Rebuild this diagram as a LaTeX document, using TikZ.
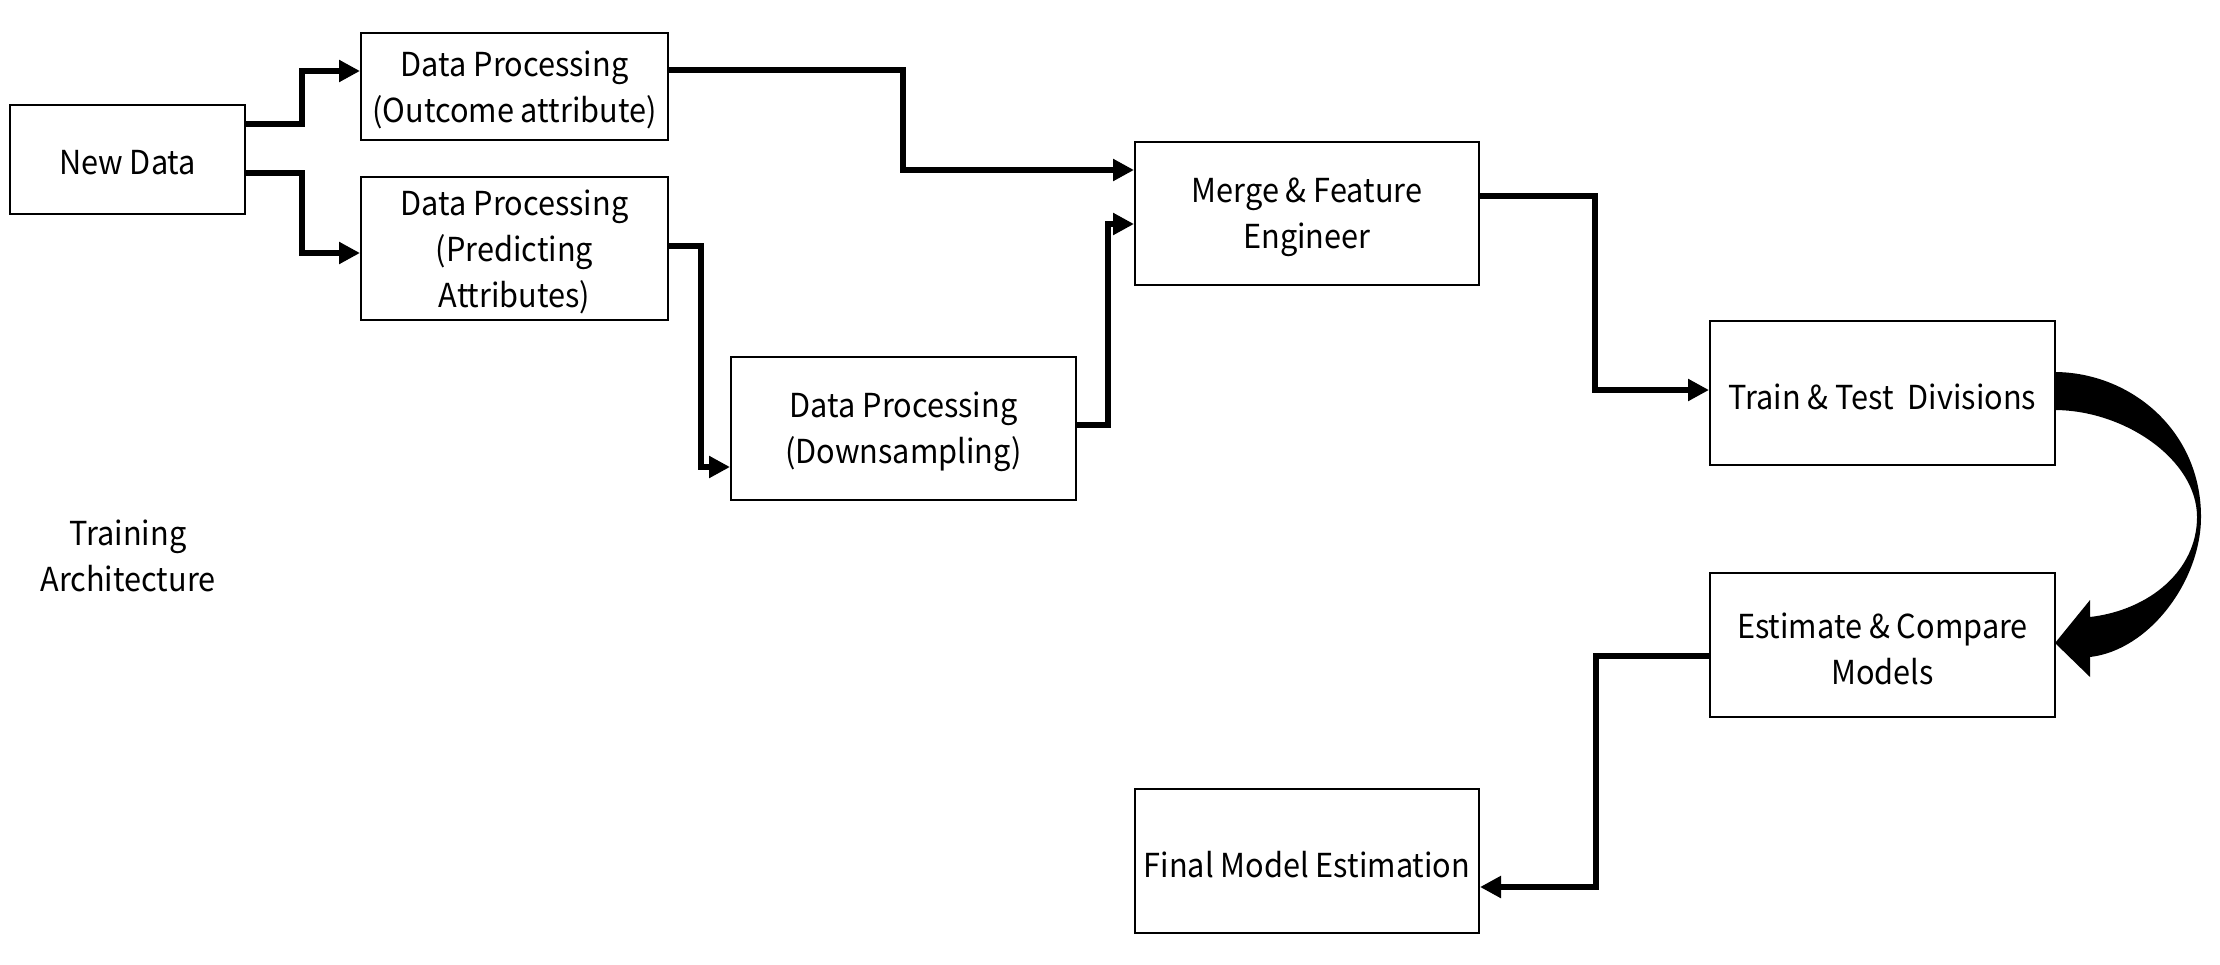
\documentclass[tikz,border=0pt]{standalone}
\usepackage{fontspec}
\newfontfamily\nsf[FakeStretch=0.93]{Noto Sans CJK SC}
\usetikzlibrary{arrows.meta}
\begin{document}
\begin{tikzpicture}[x=0.5pt,y=-0.5pt,
  box/.style={draw, line width=1pt, fill=white, inner sep=0pt},
  txt/.style={align=center, inner sep=0pt, yshift=-1.75pt,
    font=\nsf\fontsize{16.5}{23}\selectfont},
  conn/.style={line width=3.4pt, -{Triangle[length=10.5pt,width=10.5pt]}},
  lbl/.style={align=center, font=\nsf\fontsize{16.5}{23}\selectfont}]
\useasboundingbox (0,0) rectangle (2220,964);
\node[box, minimum width=117.5pt, minimum height=54.5pt] (nd) at (127.5,159) {};
\node[txt] (ndt) at (nd.center) {New Data};
\node[box, minimum width=153.5pt, minimum height=53.5pt] (o) at (514.5,86.5) {};
\node[txt] (ot) at (o.center) {Data Processing\\(Outcome attribute)};
\node[box, minimum width=153.5pt, minimum height=71.5pt] (p) at (514.5,248.5) {};
\node[txt] (pt) at (p.center) {Data Processing\\(Predicting\\Attributes)};
\node[box, minimum width=172.5pt, minimum height=71.5pt] (ds) at (903.5,428.5) {};
\node[txt] (dst) at (ds.center) {Data Processing\\(Downsampling)};
\node[box, minimum width=172pt, minimum height=71.5pt] (m) at (1307,213.5) {};
\node[txt] (mt) at (m.center) {Merge \& Feature\\Engineer};
\node[box, minimum width=172.5pt, minimum height=72pt] (t) at (1882.5,393) {};
\node[txt] (tt) at (t.center) {Train \& Test\ \ Divisions};
\node[box, minimum width=172.5pt, minimum height=72pt] (e) at (1882.5,645) {};
\node[txt] (et) at (e.center) {Estimate \& Compare\\Models};
\node[box, minimum width=172pt, minimum height=72pt] (f) at (1307,861) {};
\node[txt] (ft) at (f.center) {Final Model Estimation};
\node[lbl] (ta) at (128,556) {Training\\Architecture};
\draw[conn] (nd.east |- 0,124) -- (302,124) |- (o.west |- 0,71);
\draw[conn] (nd.east |- 0,173) -- (302,173) |- (p.west |- 0,253);
\draw[conn] (o.east |- 0,70) -| (903,170) -- (m.west |- 0,170);
\draw[conn] (p.east |- 0,246) -| (701,467) -- (ds.west |- 0,467);
\draw[conn] (ds.east |- 0,425) -| (1108,224) -- (m.west |- 0,224);
\draw[conn] (m.east |- 0,196) -| (1595,390) -- (t.west |- 0,390);
\draw[conn] (e.west |- 0,656) -| (1596,887) -- (f.east |- 0,887);
\fill (2054,372) .. controls (2130,372) and (2201,430) .. (2201,517)
  .. controls (2201,580) and (2150,650) .. (2090,657)
  -- (2090,677) -- (2055,643) -- (2090,600) -- (2090,617)
  .. controls (2150,610) and (2197,570) .. (2197,517)
  .. controls (2197,460) and (2125,410) .. (2054,410) -- cycle;
\end{tikzpicture}
\end{document}
